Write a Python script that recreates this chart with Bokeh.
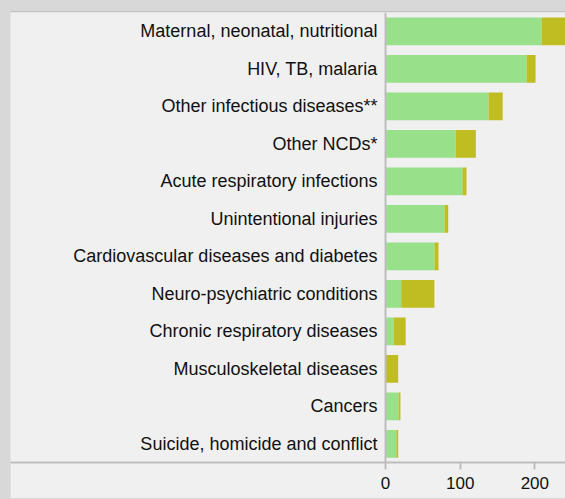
from bokeh.plotting import figure
from bokeh.models import ColumnDataSource, FactorRange, Range1d, FixedTicker, Span, GlobalInlineStyleSheet
from bokeh.core.properties import value
from bokeh.embed import file_html
from bokeh.resources import INLINE

causes = [
    "Maternal, neonatal, nutritional",
    "HIV, TB, malaria",
    "Other infectious diseases**",
    "Other NCDs*",
    "Acute respiratory infections",
    "Unintentional injuries",
    "Cardiovascular diseases and diabetes",
    "Neuro-psychiatric conditions",
    "Chronic respiratory diseases",
    "Musculoskeletal diseases",
    "Cancers",
    "Suicide, homicide and conflict",
]
green_vals = [209, 189, 138, 94, 103, 79, 65.5, 21, 11, 0, 17.5, 14.5]
olive_vals = [40, 12, 19, 27, 5.5, 5, 5.5, 44.5, 16, 17, 2.5, 2.5]
x_ticks = [0, 100, 200]

GREEN = "#98e08a"
OLIVE = "#bfbd22"
PANEL = "#f0f0f0"
AXIS = "#bdbdbd"
FONT = "Liberation Sans"

source = ColumnDataSource(dict(cause=causes, green=green_vals, olive=olive_vals,
                               zero=[0] * len(causes)))

p = figure(width=555, height=487,
           y_range=FactorRange(factors=list(reversed(causes)), range_padding=0),
           x_range=Range1d(-502.3, 241.1),
           output_backend="svg", toolbar_location=None,
           min_border_left=0, min_border_right=0, min_border_top=0, min_border_bottom=37)
p.styles = {"margin-top": "11px", "margin-left": "10px",
            "border-top": "1px solid #c2c2c2"}
p.stylesheets = [GlobalInlineStyleSheet(css="body { background: #d8d8d8; }")]

p.background_fill_color = PANEL
p.border_fill_color = PANEL
p.outline_line_color = None
p.grid.visible = False
p.yaxis.visible = False

p.hbar_stack(["green", "olive"], y="cause", height=0.74, color=[GREEN, OLIVE],
             line_color=None, source=source)

p.text(x="zero", y="cause", text="cause", source=source, x_offset=-8,
       text_align="right", text_baseline="middle",
       text_font=value(FONT), text_font_size="18px", text_color="#111111")

p.add_layout(Span(location=0, dimension="height", line_color=AXIS, line_width=2))

ax = p.xaxis[0]
ax.ticker = FixedTicker(ticks=x_ticks)
ax.axis_line_color = AXIS
ax.axis_line_width = 2
ax.major_tick_line_color = AXIS
ax.major_tick_line_width = 2
ax.major_tick_in = 0
ax.major_tick_out = 7
ax.minor_tick_line_color = None
ax.major_label_text_font = FONT
ax.major_label_text_font_size = "17px"
ax.major_label_text_color = "#111111"
ax.major_label_standoff = 7

open("out.html", "w").write(file_html(p, INLINE))
